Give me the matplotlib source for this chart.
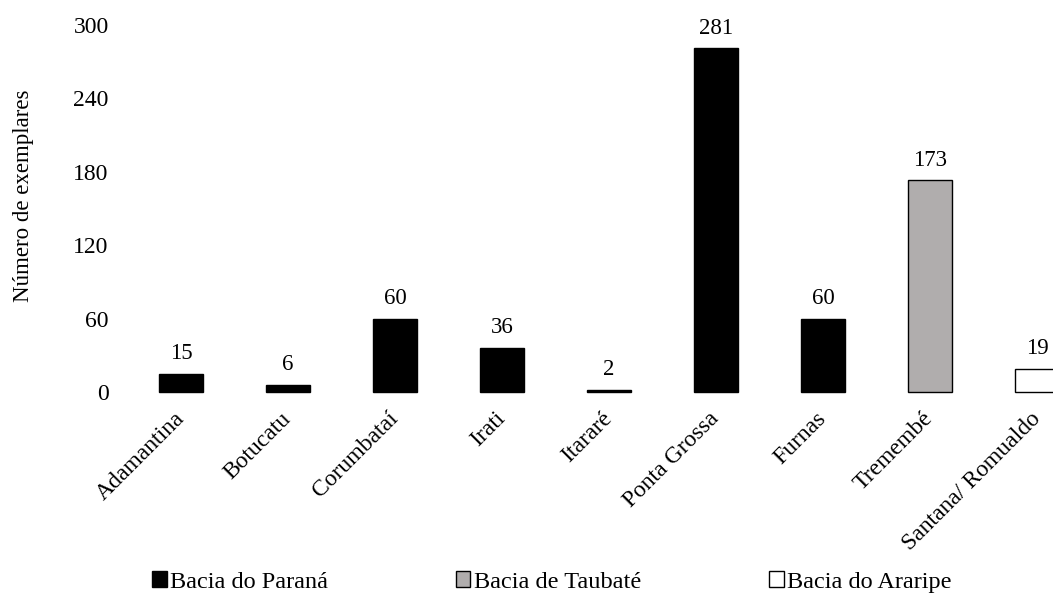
import matplotlib
matplotlib.use("Agg")
import matplotlib.pyplot as plt
from matplotlib.patches import Patch

plt.rcParams['font.family'] = ['Liberation Serif', 'DejaVu Serif']

# Specimen counts per geological formation
formations = ["Adamantina", "Botucatu", "Corumbataí", "Irati", "Itararé",
              "Ponta Grossa", "Furnas", "Tremembé", "Santana/ Romualdo"]
counts = [15, 6, 60, 36, 2, 281, 60, 173, 19]
basins = ["Paraná", "Paraná", "Paraná", "Paraná", "Paraná",
          "Paraná", "Paraná", "Taubaté", "Araripe"]

basin_names = ["Paraná", "Taubaté", "Araripe"]
basin_labels = ["Bacia do Paraná", "Bacia de Taubaté", "Bacia do Araripe"]
basin_colors = {"Paraná": "#000000", "Taubaté": "#b0adad", "Araripe": "#ffffff"}

y_ticks = [0, 60, 120, 180, 240, 300]

W, H = 1053, 594
fig = plt.figure(figsize=(W / 100, H / 100), dpi=100)
ax = fig.add_axes([127.5 / W, 202 / H, 963 / W, 367 / H])

x = list(range(len(formations)))
colors = [basin_colors[b] for b in basins]
ax.bar(x, counts, width=0.41, color=colors, edgecolor="#000000",
       linewidth=1.0, clip_on=False)

for xi, v in zip(x, counts):
    ax.annotate(str(v), (xi, v), xytext=(0, 7), textcoords="offset points",
                ha="center", va="bottom", fontsize=16.5)

ax.set_xlim(-0.5, len(formations) - 0.5)
ax.set_ylim(0, 300)
ax.set_yticks(y_ticks)
ax.set_yticklabels([str(t) for t in y_ticks], fontsize=17)
ax.tick_params(axis="y", length=0, pad=13.5)
ax.set_xticks(x)
ax.set_xticklabels(formations, fontsize=17, rotation=45, ha="right",
                   va="center", rotation_mode="anchor")
ax.tick_params(axis="x", length=0, pad=17)
for s in ax.spines.values():
    s.set_visible(False)

ax.set_ylabel("Número de exemplares", fontsize=16.5)
ax.yaxis.set_label_coords(-0.097, 0.534)

handles = [Patch(facecolor=basin_colors[b], edgecolor="#000000", linewidth=1.0)
           for b in basin_names]
fig.legend(handles, basin_labels, loc="center left",
           bbox_to_anchor=(152 / W, 12 / H), ncol=3, frameon=False,
           fontsize=17.5, handlelength=0.6, handleheight=0.6,
           handletextpad=0.15, columnspacing=5.25, borderpad=0,
           borderaxespad=0)

fig.savefig("out.png", dpi=100)
